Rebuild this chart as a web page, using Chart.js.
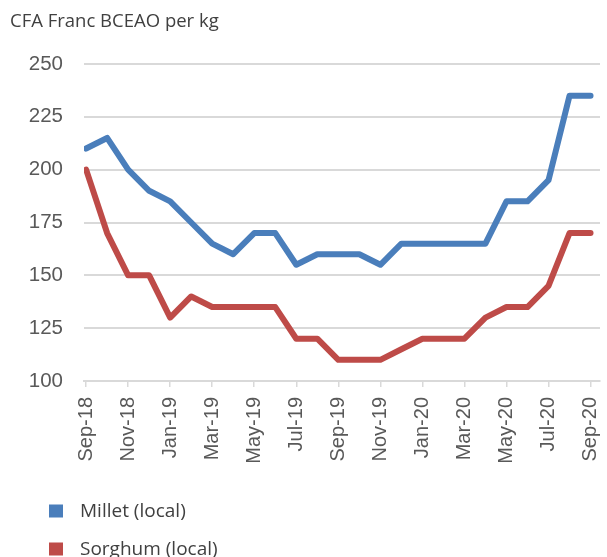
<!DOCTYPE html>
<html>
<head>
<meta charset="utf-8">
<script src="https://cdn.jsdelivr.net/npm/chart.js@4.4.1/dist/chart.umd.min.js"></script>
<style>
html,body{margin:0;padding:0;background:#fff;}
#wrap{width:607px;height:557px;position:relative;}
</style>
</head>
<body>
<div id="wrap"><canvas id="c" width="607" height="557"></canvas></div>
<script>
const months = ["Sep-18","Oct-18","Nov-18","Dec-18","Jan-19","Feb-19","Mar-19","Apr-19","May-19","Jun-19","Jul-19","Aug-19","Sep-19","Oct-19","Nov-19","Dec-19","Jan-20","Feb-20","Mar-20","Apr-20","May-20","Jun-20","Jul-20","Aug-20","Sep-20"];
const millet  = [210,215,200,190,185,175,165,160,170,170,155,160,160,160,155,165,165,165,165,165,185,185,195,235,235];
const sorghum = [200,170,150,150,130,140,135,135,135,135,120,120,110,110,110,115,120,120,120,130,135,135,145,170,170];
const yTicks = [100,125,150,175,200,225,250];
const seriesNames = ["Millet (local)","Sorghum (local)"];
const seriesColors = ["#4a7ebb","#be4b48"];
const yTitle = "CFA Franc BCEAO per kg";

function pts(arr){ return arr.map((v,i)=>({x:i,y:v})); }

const overlay = {
  id:'overlay',
  afterDraw(chart){
    const ctx = chart.ctx;
    ctx.save();
    ctx.fillStyle = '#404040';
    ctx.font = '18.5px "Open Sans"';
    ctx.textBaseline = 'middle';
    ctx.textAlign = 'left';
    ctx.fillText(yTitle, 10, 22);
    const rows = [511, 549];
    chart.data.datasets.forEach((ds,i)=>{
      ctx.fillStyle = ds.borderColor;
      ctx.fillRect(49, rows[i]-6.5, 14, 13);
      ctx.fillStyle = '#404040';
      ctx.font = '19px "Open Sans"';
      ctx.fillText(ds.label, 80, rows[i]+1);
    });
    ctx.restore();
  }
};

new Chart(document.getElementById('c'), {
  type:'line',
  data:{
    datasets:[
      {label:seriesNames[0], data:pts(millet), borderColor:seriesColors[0], backgroundColor:seriesColors[0]},
      {label:seriesNames[1], data:pts(sorghum), borderColor:seriesColors[1], backgroundColor:seriesColors[1]}
    ]
  },
  options:{
    responsive:false,
    animation:false,
    devicePixelRatio:1,
    layout:{padding:{left:0,right:7,top:64,bottom:0}},
    elements:{
      line:{borderWidth:6, tension:0, borderJoinStyle:'round', borderCapStyle:'round'},
      point:{radius:0, hoverRadius:0}
    },
    plugins:{legend:{display:false}, tooltip:{enabled:false}, title:{display:false}},
    scales:{
      x:{
        type:'linear', min:-0.1, max:24.45,
        afterBuildTicks(scale){ scale.ticks = months.map((m,i)=>({value:i})).filter(t=>t.value%2===0); },
        afterFit(scale){ scale.height = 176; scale.paddingLeft = 0; scale.paddingRight = 0; },
        grid:{drawOnChartArea:false, drawTicks:true, tickLength:6, color:'#d9d9d9', lineWidth:1.5},
        border:{display:true, color:'#d9d9d9', width:2},
        ticks:{
          autoSkip:false, maxRotation:90, minRotation:90, padding:10,
          color:'#595959', font:{family:'"Liberation Sans", Arial', size:20},
          callback:(v)=>months[v]
        }
      },
      y:{
        min:100, max:250,
        afterBuildTicks(scale){ scale.ticks = yTicks.map(v=>({value:v})); },
        afterFit(scale){ scale.width = 84; scale.paddingTop = 0; scale.paddingBottom = 0; },
        grid:{color:'#d9d9d9', lineWidth:2, drawTicks:false},
        border:{display:false},
        ticks:{padding:21, color:'#595959', font:{family:'"Liberation Sans", Arial', size:20.5}}
      }
    }
  },
  plugins:[overlay]
});
</script>
</body>
</html>
